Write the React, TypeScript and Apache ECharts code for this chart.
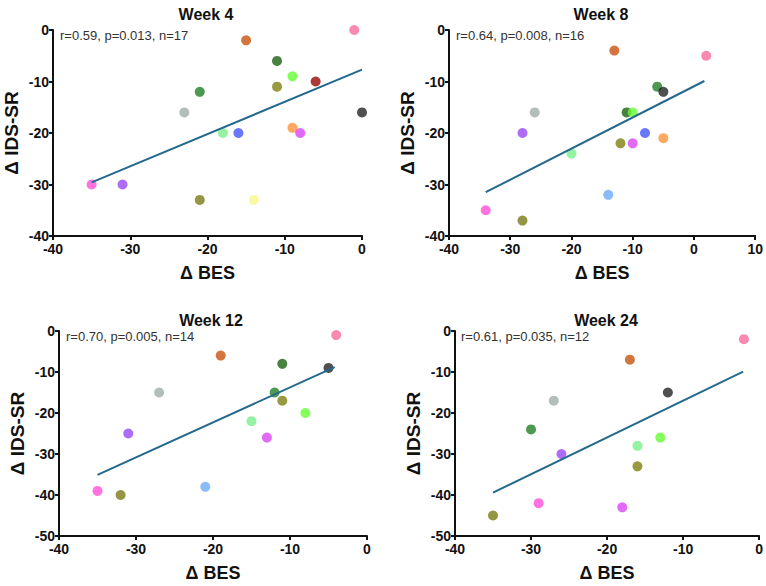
import React, { useEffect, useRef } from "react";
import * as echarts from "echarts";

// subject palette (same subject = same colour in every panel)
const subjectColors: Record<string, string> = {
  A: "#f76c9b",
  B: "#c8520e",
  C: "#1c6212",
  D: "#66ff33",
  E: "#9a0606",
  F: "#808012",
  G: "#208026",
  H: "#a3abab",
  I: "#222426",
  J: "#78f08c",
  K: "#4455ff",
  L: "#ff9438",
  M: "#d946f5",
  N: "#ff4fd8",
  O: "#9a48f8",
  P: "#7a7a14",
  Q: "#f8f88c",
  R: "#6aaaf5",
};

const panelTitles = ["Week 4", "Week 8", "Week 12", "Week 24"];
const panelStats = [
  "r=0.59, p=0.013, n=17",
  "r=0.64, p=0.008, n=16",
  "r=0.70, p=0.005, n=14",
  "r=0.61, p=0.035, n=12",
];

// Week 4
const w4Subjects = ["A", "B", "C", "D", "E", "F", "G", "H", "I", "J", "K", "L", "M", "N", "O", "P", "Q"];
const w4Bes = [-1, -15, -11, -9, -6, -11, -21, -23, 0, -18, -16, -9, -8, -35, -31, -21, -14];
const w4Ids = [0, -2, -6, -9, -10, -11, -12, -16, -16, -20, -20, -19, -20, -30, -30, -33, -33];
const w4FitX = [-35, 0];
const w4FitY = [-29.6, -7.7];

// Week 8
const w8Subjects = ["A", "B", "G", "I", "C", "D", "H", "O", "K", "L", "F", "M", "J", "R", "N", "P"];
const w8Bes = [2, -13, -6, -5, -11, -10, -26, -28, -8, -5, -12, -10, -20, -14, -34, -28];
const w8Ids = [-5, -4, -11, -12, -16, -16, -16, -20, -20, -21, -22, -22, -24, -32, -35, -37];
const w8FitX = [-34, 1.7];
const w8FitY = [-31.5, -9.9];

// Week 12
const w12Subjects = ["A", "B", "C", "I", "H", "G", "F", "D", "J", "O", "M", "R", "N", "P"];
const w12Bes = [-4, -19, -11, -5, -27, -12, -11, -8, -15, -31, -13, -21, -35, -32];
const w12Ids = [-1, -6, -8, -9, -15, -15, -17, -20, -22, -25, -26, -38, -39, -40];
const w12FitX = [-35, -4.2];
const w12FitY = [-35.1, -8.8];

// Week 24
const w24Subjects = ["A", "B", "I", "H", "G", "D", "J", "O", "F", "N", "M", "P"];
const w24Bes = [-2, -17, -12, -27, -30, -13, -16, -26, -16, -29, -18, -35];
const w24Ids = [-2, -7, -15, -17, -24, -26, -28, -30, -33, -42, -43, -45];
const w24FitX = [-35, -2.1];
const w24FitY = [-39.4, -9.9];

const xRanges = [
  [-40, 0],
  [-40, 10],
  [-40, 0],
  [-40, 0],
];
const yRanges = [
  [-40, 0],
  [-40, 0],
  [-50, 0],
  [-50, 0],
];

const panels = [
  { subjects: w4Subjects, bes: w4Bes, ids: w4Ids, fitX: w4FitX, fitY: w4FitY },
  { subjects: w8Subjects, bes: w8Bes, ids: w8Ids, fitX: w8FitX, fitY: w8FitY },
  { subjects: w12Subjects, bes: w12Bes, ids: w12Ids, fitX: w12FitX, fitY: w12FitY },
  { subjects: w24Subjects, bes: w24Bes, ids: w24Ids, fitX: w24FitX, fitY: w24FitY },
];

// layout (pixels)
const grids = [
  { left: 53, top: 30, width: 309, height: 206 },
  { left: 449, top: 30, width: 308, height: 206 },
  { left: 59, top: 331, width: 308, height: 205 },
  { left: 455, top: 331, width: 307, height: 205 },
];
const titlePos = [
  { x: 201, y: 1 },
  { x: 596, y: 1 },
  { x: 206, y: 307 },
  { x: 601, y: 307 },
];
const statPos = [
  { x: 60, y: 35 },
  { x: 456, y: 35 },
  { x: 66, y: 336 },
  { x: 461, y: 336 },
];

const FONT = "'Liberation Sans', Arial, Helvetica, sans-serif";

export default function App() {
  const ref = useRef<HTMLDivElement>(null);
  useEffect(() => {
    if (!ref.current) return;
    const chart = echarts.init(ref.current, null, { renderer: "svg" });

    const axisCommon = {
      axisLine: { show: true, onZero: false, lineStyle: { color: "#111", width: 2 } },
      axisTick: { show: true, inside: false, length: 4, lineStyle: { color: "#111", width: 2 } },
      splitLine: { show: false },
      nameTextStyle: { fontFamily: FONT, fontWeight: "bold", fontSize: 18, color: "#111" },
      axisLabel: { fontFamily: FONT, fontWeight: "bold", fontSize: 14, color: "#111" },
    };

    const xAxis = xRanges.map((r, i) => ({
      ...axisCommon,
      type: "value",
      gridIndex: i,
      min: r[0],
      max: r[1],
      interval: 10,
      name: "Δ BES",
      nameLocation: "middle",
      nameGap: 28,
      axisLabel: { ...axisCommon.axisLabel, margin: 6 },
    }));
    const yAxis = yRanges.map((r, i) => ({
      ...axisCommon,
      type: "value",
      gridIndex: i,
      min: r[0],
      max: r[1],
      interval: 10,
      name: "Δ IDS-SR",
      nameLocation: "middle",
      nameGap: 32,
      nameTextStyle: { ...axisCommon.nameTextStyle, fontSize: 19 },
      axisLabel: { ...axisCommon.axisLabel, margin: 4 },
    }));

    const series: any[] = [];
    panels.forEach((p, i) => {
      series.push({
        type: "scatter",
        xAxisIndex: i,
        yAxisIndex: i,
        symbolSize: 10,
        z: 2,
        data: p.bes.map((x, k) => ({
          value: [x, p.ids[k]],
          itemStyle: { color: subjectColors[p.subjects[k]] },
        })),
      });
      series.push({
        type: "line",
        xAxisIndex: i,
        yAxisIndex: i,
        showSymbol: false,
        symbol: "none",
        z: 3,
        lineStyle: { color: "#24698c", width: 2 },
        data: p.fitX.map((x, k) => [x, p.fitY[k]]),
      });
    });

    chart.setOption({
      animation: false,
      backgroundColor: "#ffffff",
      title: panelTitles.map((t, i) => ({
        text: t,
        left: titlePos[i].x,
        top: titlePos[i].y,
        textAlign: "center",
        textStyle: { fontFamily: FONT, fontWeight: "bold", fontSize: 16, color: "#111" },
      })),
      grid: grids.map((g) => ({ ...g, containLabel: false })),
      xAxis,
      yAxis,
      series,
      graphic: panelStats.map((s, i) => ({
        type: "text",
        x: statPos[i].x,
        y: statPos[i].y,
        style: {
          text: s,
          fontFamily: FONT,
          fontSize: 13,
          fill: "#333",
          verticalAlign: "middle",
        },
      })),
    });
    return () => chart.dispose();
  }, []);
  return (
    <div
      ref={ref}
      style={{ position: "fixed", left: 0, top: 0, width: 766, height: 586, background: "#fff" }}
    />
  );
}
